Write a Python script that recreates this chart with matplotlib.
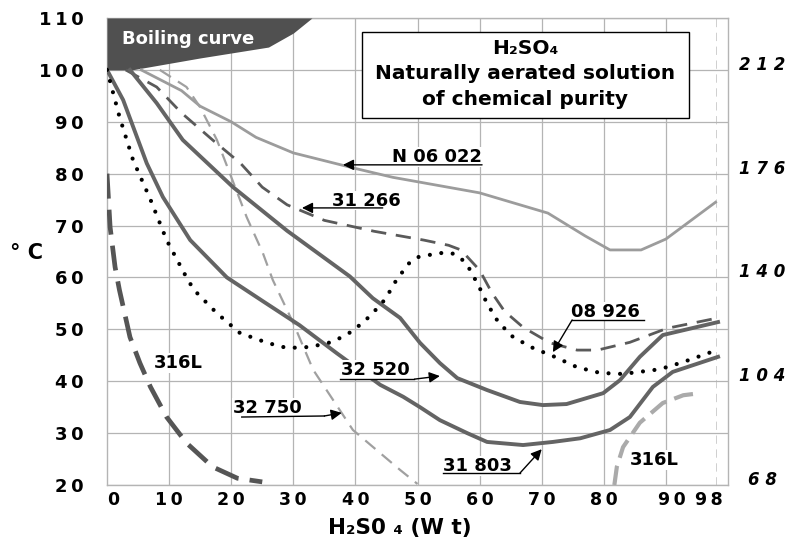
import matplotlib
matplotlib.use("Agg")
import matplotlib.pyplot as plt
from matplotlib.patches import Rectangle
from matplotlib.transforms import ScaledTranslation

plt.rcParams['font.family'] = ['DejaVu Sans']
plt.rcParams['font.weight'] = 'bold'
plt.rcParams['axes.labelweight'] = 'bold'
plt.rcParams['lines.scale_dashes'] = False

# --- data (wt % H2SO4 vs degC) ---
boil_wt = [0, 4, 15, 26, 30, 33]
boil_c = [100, 100, 102.3, 104.4, 107.1, 110]

n06022_wt = [5.5, 12, 15, 20, 24, 30, 40, 46, 60, 71, 77, 81, 86, 90, 98]
n06022_c = [100, 96, 93, 90, 87, 84, 81, 79.3, 76.3, 72.4, 68, 65.3, 65.3, 67.4, 74.5]

s31266_wt = [3, 8, 12, 17, 21.5, 25, 29, 35, 43, 51, 55, 57, 60, 62, 64, 67, 71.3, 75.7, 79, 84.2, 90.2, 98.4]
s31266_c = [100, 96.7, 91.7, 86.5, 82, 77.4, 74, 71, 68.9, 67.2, 66.2, 65.3, 61.4, 57, 53.5, 50.4, 47.4, 46, 46, 47.5, 50.2, 52.2]

n08926_wt = [0, 2, 4.2, 7, 9.6, 12.8, 14, 17.7, 21.4, 25.8, 29, 32.7, 36.4, 39.6, 42.4, 44.8, 46.4, 48.5,
             50, 53.5, 55.5, 57, 58.2, 59.8, 61.2, 63, 65.4, 68.6, 72.1, 75.7, 79.4, 83.1, 89, 92.8, 98.2]
n08926_c = [100, 91, 82.6, 75, 67.2, 60, 57.6, 53.1, 49.3, 47.4, 46.4, 46.6, 47.6, 49.7, 52.6, 55.8, 59.1, 62.6,
            63.9, 64.7, 64.7, 63.7, 62, 58.5, 55, 51.4, 48.5, 46.4, 44.7, 42.7, 41.6, 41.4, 42.3, 43.7, 46]

s32520_wt = [3.7, 8, 12.2, 20.3, 29, 39.1, 42.8, 47.2, 50.4, 53.6, 56.4, 61.2, 66.5, 70.2, 74, 79.9, 82.6, 85.8, 89.5, 98.4]
s32520_c = [100, 93.6, 86.5, 77.4, 69, 60.2, 56, 52.2, 47.4, 43.5, 40.6, 38.3, 36, 35.4, 35.6, 37.7, 40.2, 44.7, 48.9, 51.4]

s31803_wt = [0, 2.6, 6.4, 9, 13.4, 19.3, 25, 31, 37, 44, 47.7, 50.4, 53.6, 58, 61.2, 67, 71.8, 76.2, 81, 84.2, 87.9, 91.1, 98.4]
s31803_c = [100, 94.2, 82, 75.5, 67.2, 60, 55.5, 50.8, 45.4, 39.3, 37, 35, 32.5, 30, 28.3, 27.7, 28.3, 29, 30.6, 33.1, 38.9, 41.8, 44.7]

s32750_wt = [8.5, 12.8, 15, 17.7, 19.8, 22.5, 25.1, 26.7, 30, 33.2, 36.4, 39.6, 47.2, 50]
s32750_c = [100, 96.7, 92.8, 86.5, 80, 71.6, 64.7, 59.5, 51.2, 42.2, 36.4, 30.6, 22.9, 20.2]

l316_a_wt = [0, 0.5, 1.3, 2, 3.7, 5.3, 7, 9.6, 12.8, 17, 21, 25]
l316_a_c = [80, 69.7, 62, 57.6, 48.5, 43.5, 38.9, 33.1, 28.1, 23.5, 21.3, 20.6]

l316_b_wt = [81.7, 82.1, 83.1, 85.8, 89.5, 92.8, 95.5]
l316_b_c = [20, 23.5, 27.3, 32, 35.8, 37.3, 37.7]

x_ticks = [0, 10, 20, 30, 40, 50, 60, 70, 80, 90, 98]
y_ticks = [20, 30, 40, 50, 60, 70, 80, 90, 100, 110]
f_ticks = [68, 104, 140, 176, 212]

TS = '\u2009'


def spaced(v, sep=TS):
    return sep.join(str(v))


fig = plt.figure(figsize=(7.9, 5.46), dpi=100)
ax = fig.add_axes([107 / 790, 1 - 485 / 546, 621 / 790, 467 / 546])
ax.set_xlim(0, 100)
ax.set_ylim(20, 110)

grid_c = '#b4b4b4'
for s in ax.spines.values():
    s.set_color(grid_c)
    s.set_linewidth(1)

ax.set_xticks(x_ticks, labels=[spaced(v) for v in x_ticks])
ax.set_yticks(y_ticks, labels=[spaced(v) for v in y_ticks])
ax.tick_params(axis='x', length=0, pad=4, labelsize=12.5)
ax.tick_params(axis='y', length=0, pad=17, labelsize=13)
ax.grid(True, color=grid_c, lw=0.9, zorder=0)
ax.set_axisbelow(True)
gl = ax.xaxis.get_gridlines()
gl[0].set_visible(False)
gl[-1].set_linestyle((0, (6, 4)))
gl[-1].set_linewidth(0.6)
gl[-1].set_color('#c8c8c8')

# nudge a few x tick labels like the original layout
nudge_px = {0: 6, 90: 6, 98: -7}
for tick, v in zip(ax.xaxis.get_major_ticks(), x_ticks):
    if v in nudge_px:
        lab = tick.label1
        lab.set_transform(lab.get_transform() + ScaledTranslation(nudge_px[v] / 100, 0, fig.dpi_scale_trans))

sec = ax.secondary_yaxis('right', functions=(lambda c: c * 9 / 5 + 32, lambda f: (f - 32) * 5 / 9))
sec.set_yticks(f_ticks, labels=[' '.join(str(v)) for v in f_ticks],
               fontstyle='italic', fontweight='bold', ha='center', va='baseline')
sec.tick_params(length=0, pad=24.5, labelsize=12)
sec.spines['right'].set_visible(False)

# boiling region
ax.fill_between(boil_wt, boil_c, 110, color='#505050', lw=0, zorder=3)
ax.text(13, 105.9, 'Boiling curve', color='white', fontsize=13, ha='center', va='center', zorder=4)

dark = '#646464'
light = '#9c9c9c'
ax.plot(n06022_wt, n06022_c, color=light, lw=2.0, zorder=3)
ax.plot(s31266_wt, s31266_c, color='#5a5a5a', lw=2.0, dashes=(11, 7), zorder=3)
ax.plot(s32750_wt, s32750_c, color='#a0a0a0', lw=1.6, dashes=(9.5, 6), zorder=3)
ax.plot(s32520_wt, s32520_c, color=dark, lw=2.8, zorder=3)
ax.plot(s31803_wt, s31803_c, color=dark, lw=2.8, zorder=3)
ax.plot(n08926_wt, n08926_c, color='black', lw=3.0, dashes=(0.01, 8.3), dash_capstyle='round', zorder=3)
ax.plot(l316_a_wt, l316_a_c, color='#555555', lw=3.4, dashes=(18, 8), zorder=3)
ax.plot(l316_b_wt, l316_b_c, color='#aaaaaa', lw=3.0, dashes=(14, 6), zorder=3)

# title box
ax.add_patch(Rectangle((41, 90.7), 52.7, 16.6, fc='white', ec='black', lw=1, zorder=5))
ax.text(67.3, 104.2, 'H\u2082SO\u2084', fontsize=14.5, ha='center', va='center', zorder=6)
ax.text(67.3, 99.4, 'Naturally aerated solution', fontsize=14.5, ha='center', va='center', zorder=6)
ax.text(67.3, 94.2, 'of chemical purity', fontsize=14.5, ha='center', va='center', zorder=6)

# curve labels: text position, underline path, arrow head
labels = [
    ('N 06 022', (53.1, 83.2), [(60.4, 81.7)], (38, 81.7)),
    ('31 266', (41.7, 74.8), [(44.4, 73.4)], (31.4, 73.4)),
    ('08 926', (80.2, 53.4), [(86.5, 51.8), (74.9, 51.8)], (71.8, 45.6)),
    ('32 520', (43.2, 42.2), [(37.5, 40.4), (49.5, 40.4)], (53.6, 41.0)),
    ('32 750', (25.8, 34.9), [(21.7, 33.1), (35.0, 33.3)], (37.8, 33.9)),
    ('31 803', (59.6, 23.7), [(54.1, 22.3), (66.5, 22.3)], (70.0, 26.9)),
    ('316L', (11.4, 43.5), None, None),
    ('316L', (88.2, 24.8), None, None),
]
for txt, pos, path, head in labels:
    ax.text(pos[0], pos[1], txt, fontsize=13, ha='center', va='center', zorder=6,
            bbox=dict(fc='white', ec='none', pad=0.5))
    if path is None:
        continue
    if len(path) > 1:
        ax.plot([p[0] for p in path], [p[1] for p in path], color='black', lw=1, zorder=7)
    ax.annotate('', xy=head, xytext=path[-1], zorder=7,
                arrowprops=dict(arrowstyle='-|>', color='black', lw=1, mutation_scale=16,
                                shrinkA=0, shrinkB=0))

ax.set_xlabel('H\u2082S0 \u2084 (W t)', fontsize=15.5, fontweight='bold')
ax.xaxis.set_label_coords((400 - 107) / 621, (485 - 528) / 467)
ax.xaxis.label.set_va('center')
ax.set_ylabel('° C', fontsize=15, fontweight='bold', rotation=0, ha='center', va='center')
ax.yaxis.set_label_coords((27 - 107) / 621, (485 - 253) / 467)

fig.savefig('out.png', dpi=100)
